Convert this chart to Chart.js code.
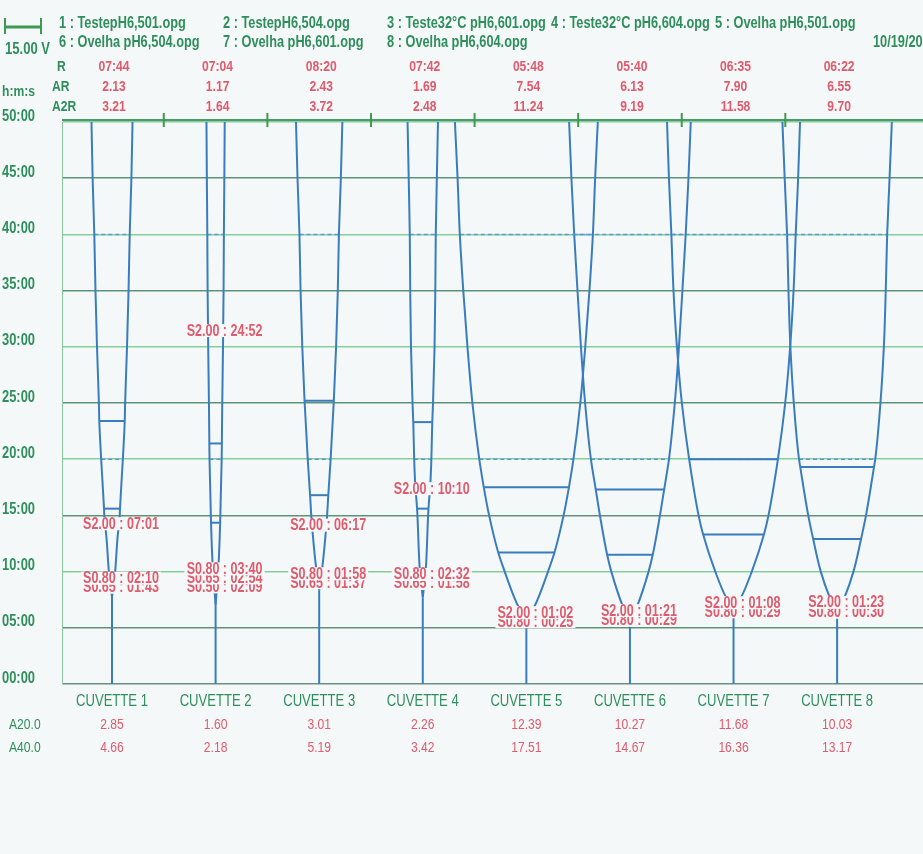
<!DOCTYPE html>
<html>
<head>
<meta charset="utf-8">
<script src="https://cdn.jsdelivr.net/npm/chart.js@4.4.1/dist/chart.umd.min.js"></script>
<style>
  html, body { margin: 0; padding: 0; background: #f5f8f8; }
  canvas { display: block; }
</style>
</head>
<body>
<canvas id="teg" width="923" height="854"></canvas>
<script>
// Run info
const files = [
  '1 : TestepH6,501.opg', '2 : TestepH6,504.opg', '3 : Teste32°C pH6,601.opg',
  '4 : Teste32°C pH6,604.opg', '5 : Ovelha pH6,501.opg', '6 : Ovelha pH6,504.opg',
  '7 : Ovelha pH6,601.opg', '8 : Ovelha pH6,604.opg'
];
const runDate = '10/19/2006';
const scaleLabel = '15.00 V';

// Per cuvette values
const cuvettes = ['CUVETTE 1', 'CUVETTE 2', 'CUVETTE 3', 'CUVETTE 4', 'CUVETTE 5', 'CUVETTE 6', 'CUVETTE 7', 'CUVETTE 8'];
const rTimes = ['07:44', '07:04', '08:20', '07:42', '05:48', '05:40', '06:35', '06:22'];
const arValues = [2.13, 1.17, 2.43, 1.69, 7.54, 6.13, 7.90, 6.55];
const a2rValues = [3.21, 1.64, 3.72, 2.48, 11.24, 9.19, 11.58, 9.70];
const a20Values = [2.85, 1.60, 3.01, 2.26, 12.39, 10.27, 11.68, 10.03];
const a40Values = [4.66, 2.18, 5.19, 3.42, 17.51, 14.67, 16.36, 13.17];

// S markers: [level, time after R]
const sMarks = [
  [['S0.65', '01:43'], ['S0.80', '02:10'], ['S2.00', '07:01']],
  [['S0.50', '02:09'], ['S0.65', '02:54'], ['S0.80', '03:40'], ['S2.00', '24:52']],
  [['S0.65', '01:37'], ['S0.80', '01:58'], ['S2.00', '06:17']],
  [['S0.65', '01:58'], ['S0.80', '02:32'], ['S2.00', '10:10']],
  [['S0.80', '00:25'], ['S2.00', '01:02']],
  [['S0.80', '00:29'], ['S2.00', '01:21']],
  [['S0.80', '00:29'], ['S2.00', '01:08']],
  [['S0.80', '00:30'], ['S2.00', '01:23']]
];

// Trace amplitude: [minutes, amplitude]
const traces = [
  [[9.45, 0.65], [9.9, 0.8], [13.2, 1.5], [14.75, 2.0], [15.6, 2.1], [20, 2.85], [23.4, 3.35], [25, 3.45], [30, 3.95], [35, 4.35], [40, 4.66], [45, 5.1], [50, 5.4]],
  [[9.22, 0.5], [9.97, 0.65], [10.73, 0.8], [14.35, 1.2], [20, 1.6], [21.4, 1.65], [25, 1.75], [30, 1.95], [31.93, 2.0], [35, 2.1], [40, 2.18], [45, 2.3], [50, 2.4]],
  [[9.95, 0.65], [10.3, 0.8], [14.62, 2.0], [16.8, 2.4], [20, 3.01], [25.2, 3.85], [30, 4.45], [35, 4.9], [40, 5.19], [45, 5.7], [50, 6.1]],
  [[9.67, 0.65], [10.23, 0.8], [15.6, 1.5], [17.87, 2.0], [20, 2.26], [23.3, 2.5], [25, 2.7], [30, 3.1], [35, 3.3], [40, 3.42], [45, 3.7], [50, 4.0]],
  [[6.22, 0.8], [6.83, 2.0], [7.8, 3.3], [10, 5.7], [11.7, 7.4], [15, 9.8], [17.5, 11.2], [20, 12.39], [25, 14.2], [30, 15.5], [35, 16.6], [40, 17.51], [45, 18.1], [50, 18.8]],
  [[6.15, 0.8], [7.02, 2.0], [10, 4.9], [11.5, 6.0], [15, 7.9], [17.3, 9.0], [20, 10.27], [25, 11.8], [30, 12.9], [35, 13.8], [40, 14.67], [45, 15.4], [50, 16.0]],
  [[7.07, 0.8], [7.72, 2.0], [10, 4.8], [13.3, 8.0], [15, 9.2], [20, 11.68], [25, 13.6], [30, 14.9], [35, 15.8], [40, 16.36], [45, 17.0], [50, 17.5]],
  [[6.87, 0.8], [7.75, 2.0], [10, 4.3], [12.9, 6.3], [15, 7.6], [19.3, 9.7], [20, 10.03], [25, 11.4], [30, 12.3], [35, 12.8], [40, 13.17], [45, 13.8], [50, 14.4]]
];

// Horizontal marker bars: [minutes, amplitude]
const bars = [
  [[15.6, 2.1], [23.4, 3.35]],
  [[14.35, 1.2], [21.4, 1.65]],
  [[16.8, 2.4], [25.2, 3.85]],
  [[15.6, 1.5], [23.3, 2.5]],
  [[11.7, 7.4], [17.5, 11.2]],
  [[11.5, 6.0], [17.3, 9.0]],
  [[13.3, 8.0], [20.0, 11.68]],
  [[12.9, 6.3], [19.3, 9.7]]
];

const SPACING = 13.63;        // amplitude units between cuvette centres
const X_MIN = 7.05, X_MAX = 120.34;

const BG = '#f5f8f8';
const BLUE = '#3a7dbf';
const RED = '#df5b6d';
const GREEN = '#2f8f5c';
const FAMILY = '"Liberation Sans", Arial, sans-serif';
const SX = 0.78;              // printer font is condensed

const mctx = document.createElement('canvas').getContext('2d');
const fitSize = (sample, width, weight = 'bold') => {
  mctx.font = `${weight} 100px ${FAMILY}`;
  return 100 * width / (SX * mctx.measureText(sample).width);
};
const F_VALUE = fitSize('07:44', 31);
const F_SLABEL = fitSize('S2.00 : 07:01', 76);
const F_LEGEND = fitSize('1 : TestepH6,501.opg', 127);
const F_VOLT = fitSize('15.00 V', 45);
const F_TICK = fitSize('50:00', 33);
const F_CUV = fitSize('CUVETTE 1', 72, 'normal');

const mmss = s => { const [m, sec] = s.split(':').map(Number); return m + sec / 60; };
const centre = i => (i + 1) * SPACING;

const seg = (data, style) => Object.assign({ data, showLine: true, pointRadius: 0, fill: false }, style);
const STEM = { borderColor: BLUE, borderWidth: 2 };
const BRANCH = { borderColor: BLUE, borderWidth: 2, indexAxis: 'y', cubicInterpolationMode: 'monotone' };
const BAR = { borderColor: BLUE, borderWidth: 2 };
const DASH = { borderColor: '#5b9ad2', borderWidth: 1.5, borderDash: [4, 3] };

const datasets = [];
cuvettes.forEach((name, i) => {
  const c = centre(i);
  const r = mmss(rTimes[i]);
  datasets.push(seg([{ x: c, y: 0 }, { x: c, y: r }], STEM));
  datasets.push(seg([{ x: c, y: r }, ...traces[i].map(([t, a]) => ({ x: c - a / 2, y: t }))], BRANCH));
  datasets.push(seg([{ x: c, y: r }, ...traces[i].map(([t, a]) => ({ x: c + a / 2, y: t }))], BRANCH));
  bars[i].forEach(([t, a]) => datasets.push(seg([{ x: c - a / 2, y: t }, { x: c + a / 2, y: t }], BAR)));
  [[20, a20Values[i]], [40, a40Values[i]]].forEach(([t, a]) =>
    datasets.push(seg([{ x: c - a / 2, y: t }, { x: c + a / 2, y: t }], DASH)));
});

// condensed text helper
const text = (ctx, str, x, y, color, size, align = 'left', weight = 'bold') => {
  ctx.save();
  ctx.font = `${weight} ${size}px ${FAMILY}`;
  ctx.fillStyle = color;
  ctx.textAlign = align;
  ctx.textBaseline = 'middle';
  ctx.translate(x, y);
  ctx.scale(SX, 1);
  ctx.fillText(str, 0, 0);
  ctx.restore();
};

const tegPlugin = {
  id: 'teg',
  beforeDraw(chart) {
    const ctx = chart.ctx;
    ctx.save();
    ctx.fillStyle = BG;
    ctx.fillRect(0, 0, chart.width, chart.height);
    ctx.restore();
  },
  afterDatasetsDraw(chart) {
    const ctx = chart.ctx;
    const xs = chart.scales.x, ys = chart.scales.y;
    const area = chart.chartArea;
    ctx.save();

    // top frame with green ticks between cuvettes
    ctx.strokeStyle = '#4f9a6c';
    ctx.lineWidth = 2;
    ctx.beginPath();
    ctx.moveTo(area.left, area.top - 2);
    ctx.lineTo(area.right, area.top - 2);
    ctx.stroke();
    ctx.strokeStyle = '#3e9a50';
    for (let i = 1; i < cuvettes.length; i++) {
      const px = xs.getPixelForValue((i + 0.5) * SPACING);
      ctx.beginPath();
      ctx.moveTo(px, area.top - 9);
      ctx.lineTo(px, area.top + 5);
      ctx.stroke();
    }

    // y tick labels sit a little above their grid lines
    ys.ticks.forEach(t => {
      const v = t.value;
      text(ctx, (v < 10 ? '0' : '') + v + ':00', 2, ys.getPixelForValue(v) - 6, GREEN, F_TICK);
    });

    // S marker labels, stacked downward, later (higher) ones painted on top
    sMarks.forEach((marks, i) => {
      const px = xs.getPixelForValue(centre(i)) + 9;
      const r = mmss(rTimes[i]);
      const items = marks.map(([lvl, dt]) => ({ str: `${lvl} : ${dt}`, y: ys.getPixelForValue(r + mmss(dt)) + 6 }));
      for (let k = items.length - 2; k >= 0; k--) {
        items[k].y = Math.max(items[k].y, items[k + 1].y + 9);
      }
      items.forEach(it => {
        ctx.font = `bold ${F_SLABEL}px ${FAMILY}`;
        const w = ctx.measureText(it.str).width * SX;
        ctx.fillStyle = BG;
        ctx.fillRect(px - w / 2 - 2, it.y - 7, w + 4, 13);
        text(ctx, it.str, px, it.y, RED, F_SLABEL, 'center');
      });
    });
    ctx.restore();
  },
  afterDraw(chart) {
    const ctx = chart.ctx;
    const xs = chart.scales.x;
    ctx.save();

    // scale bar
    ctx.strokeStyle = '#3e9a50';
    ctx.lineWidth = 3;
    ctx.beginPath();
    ctx.moveTo(5, 27); ctx.lineTo(41, 27);
    ctx.stroke();
    ctx.lineWidth = 2;
    ctx.beginPath();
    ctx.moveTo(5, 18); ctx.lineTo(5, 34);
    ctx.moveTo(41, 18); ctx.lineTo(41, 34);
    ctx.stroke();
    text(ctx, scaleLabel, 5, 49, GREEN, F_VOLT);

    // file legend, clipped to column width
    const colX = [59, 223, 387, 551, 715];
    files.forEach((f, k) => {
      const col = k < 5 ? k : k - 5;
      const y = k < 5 ? 23 : 42;
      ctx.save();
      ctx.beginPath();
      ctx.rect(colX[col], 0, 160, 60);
      ctx.clip();
      text(ctx, f, colX[col], y, GREEN, F_LEGEND);
      ctx.restore();
    });
    text(ctx, runDate, 873, 42, GREEN, F_LEGEND);

    // header rows
    text(ctx, 'R', 57, 67, GREEN, F_VALUE);
    text(ctx, 'AR', 52, 87, GREEN, F_VALUE);
    text(ctx, 'A2R', 52, 107, GREEN, F_VALUE);
    text(ctx, 'h:m:s', 2, 92, GREEN, F_VALUE);
    text(ctx, 'A20.0', 9, 725, GREEN, F_VALUE, 'left', 'normal');
    text(ctx, 'A40.0', 9, 748, GREEN, F_VALUE, 'left', 'normal');

    cuvettes.forEach((name, i) => {
      const px = xs.getPixelForValue(centre(i));
      text(ctx, rTimes[i], px + 2, 67, RED, F_VALUE, 'center');
      text(ctx, arValues[i].toFixed(2), px + 2, 87, RED, F_VALUE, 'center');
      text(ctx, a2rValues[i].toFixed(2), px + 2, 107, RED, F_VALUE, 'center');
      text(ctx, name, px, 701, GREEN, F_CUV, 'center', 'normal');
      text(ctx, a20Values[i].toFixed(2), px, 725, RED, F_VALUE, 'center', 'normal');
      text(ctx, a40Values[i].toFixed(2), px, 748, RED, F_VALUE, 'center', 'normal');
    });
    ctx.restore();
  }
};

new Chart(document.getElementById('teg'), {
  type: 'scatter',
  data: { datasets },
  plugins: [tegPlugin],
  options: {
    responsive: false,
    animation: false,
    events: [],
    layout: { padding: { top: 122, bottom: 170, left: 0, right: 0 } },
    plugins: { legend: { display: false }, tooltip: { enabled: false } },
    scales: {
      x: { type: 'linear', min: X_MIN, max: X_MAX, display: false },
      y: {
        type: 'linear', min: 0, max: 50,
        afterFit: s => { s.width = 62; },
        border: { display: true, color: '#8cc4a2', width: 1 },
        grid: {
          drawTicks: false,
          lineWidth: 1.5,
          color: c => (c.tick.value === 0 ? '#6f8f80' : c.tick.value % 10 === 0 ? '#86cf9c' : '#5f9378')
        },
        ticks: { stepSize: 5, display: false }
      }
    }
  }
});
</script>
</body>
</html>
